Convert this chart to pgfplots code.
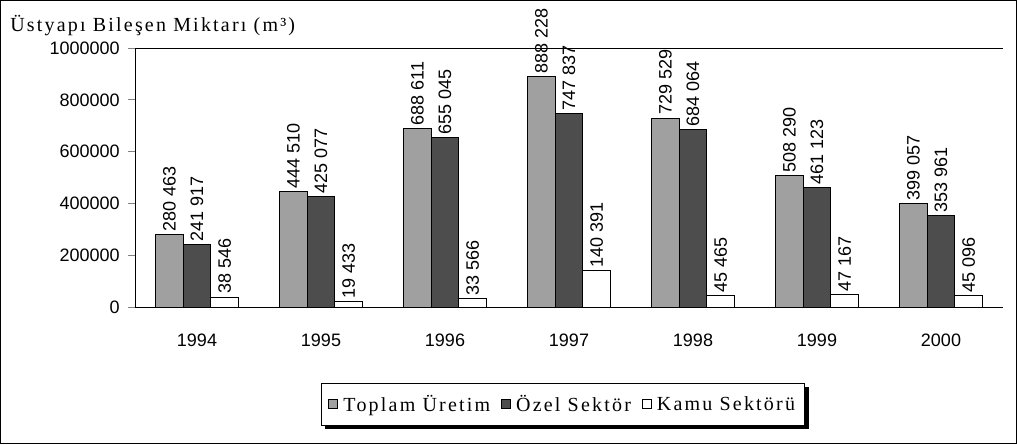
\documentclass[border=0pt]{standalone}
\usepackage{fontspec}
\setmainfont{Liberation Serif}
\newfontfamily\spacedserif[LetterSpace=11]{Liberation Serif}
\newfontfamily\numfont{Liberation Sans}
\usepackage{pgfplots}
\usepackage{pgfplotstable}
\pgfplotsset{compat=1.18}
\definecolor{toplamgray}{HTML}{A0A0A0}
\definecolor{ozelgray}{HTML}{4D4D4D}

% yil sirasi: 1994 ... 2000
\pgfplotstableread{
x toplam ozel kamu
0 280463 241917 38546
1 444510 425077 19433
2 688611 655045 33566
3 888228 747837 140391
4 729529 684064 45465
5 508290 461123 47167
6 399057 353961 45096
}\uretim

\begin{document}
\begin{tikzpicture}
% dis cerceve (1px = 0.75pt)
\draw[line width=0.75pt] (0.375pt,0.375pt) rectangle (762.375pt,332.625pt);
\node[anchor=base west, inner sep=0pt, font=\spacedserif\fontsize{15}{18}\selectfont]
  at (7.5pt,309pt) {Üstyapı Bileşen Miktarı (m³)};
\begin{axis}[
    at={(101.25pt,102.75pt)}, anchor=south west,
    scale only axis,
    width=651pt, height=194.25pt,
    xmin=-0.5, xmax=6.5,
    ymin=0, ymax=1000000,
    axis x line=bottom, axis y line=left,
    axis line style={-, line width=0.75pt},
    xtick=data,
    xticklabels={1994,1995,1996,1997,1998,1999,2000},
    xtick style={draw=none},
    xticklabel style={yshift=-12pt},
    ytick={0,200000,...,1000000},
    ytick style={line width=0.75pt},
    tick align=outside, major tick length=5pt,
    yticklabel style={xshift=-3pt},
    scaled y ticks=false,
    /pgf/number format/.cd, fixed, 1000 sep={}, assume math mode=true,
    /pgfplots/.cd,
    ticklabel style={font=\numfont\fontsize{13.5}{16}\selectfont},
    extra y ticks={1000000},
    extra y tick labels={},
    extra y tick style={grid=major, major grid style={black, line width=0.75pt}, major tick length=0pt},
    clip=false,
    ybar, bar width=0.223,
    every axis plot/.append style={draw=black, line width=0.75pt},
    nodes near coords={\pgfmathprintnumber[fixed,1000 sep={\ },assume math mode=true]{\pgfplotspointmeta}},
    every node near coord/.append style={font=\numfont\fontsize{13.5}{16}\selectfont, rotate=90, anchor=west, inner sep=2pt, text=black},
    legend columns=3,
    legend style={
        name=leg,
        at={(0.493,-0.375)}, anchor=center,
        draw=black, line width=0.75pt, fill=white,
        font=\spacedserif\fontsize{15}{18}\selectfont,
        inner xsep=5pt, inner ysep=7pt,
        /tikz/every odd column/.append style={column sep=2pt},
        /tikz/every even column/.append style={column sep=6pt},
    },
    legend image code/.code={\draw[#1, line width=0.5pt] (0pt,-3.5pt) rectangle (7pt,3.5pt);},
]
\addplot[fill=toplamgray, bar shift=-0.223] table[x=x, y=toplam] {\uretim};
\addplot[fill=ozelgray, bar shift=0] table[x=x, y=ozel] {\uretim};
\addplot[fill=white, bar shift=0.223] table[x=x, y=kamu] {\uretim};
\legend{Toplam Üretim, Özel Sektör, Kamu Sektörü}
\end{axis}
% gölge
\fill[black] ([xshift=3pt]leg.south west) rectangle ([xshift=3pt,yshift=-2.5pt]leg.south east);
\fill[black] (leg.south east) rectangle ([xshift=3pt,yshift=-3pt]leg.north east);
\end{tikzpicture}
\end{document}
